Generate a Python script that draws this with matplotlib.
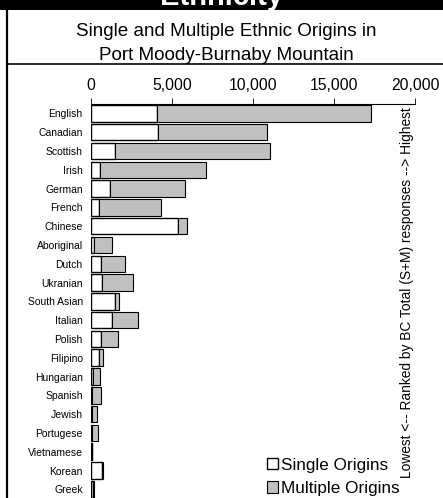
import matplotlib
matplotlib.use("Agg")
import matplotlib.pyplot as plt
from matplotlib.patches import Rectangle
from matplotlib.lines import Line2D

plt.rcParams["font.family"] = ["Liberation Sans", "DejaVu Sans"]

ORIGINS = [
    "English", "Canadian", "Scottish", "Irish", "German", "French", "Chinese",
    "Aboriginal", "Dutch", "Ukranian", "South Asian", "Italian", "Polish",
    "Filipino", "Hungarian", "Spanish", "Jewish", "Portugese", "Vietnamese",
    "Korean", "Greek",
]
SINGLE = [4100, 4140, 1460, 580, 1170, 510, 5390, 210, 600, 660, 1480, 1300,
          600, 510, 140, 70, 80, 70, 60, 700, 140]
TOTAL = [17270, 10850, 11070, 7080, 5820, 4340, 5930, 1320, 2100, 2610, 1750,
         2920, 1670, 760, 580, 640, 370, 450, 80, 720, 210]
MULTIPLE = [t - s for t, s in zip(TOTAL, SINGLE)]
TICKS = [0, 5000, 10000, 15000, 20000]

W, H = 443, 498
fig = plt.figure(figsize=(W / 100, H / 100), dpi=100)
fig.patch.set_facecolor("white")

# black title band and frame lines
fig.add_artist(Rectangle((0, 1 - 10 / H), 1, 10 / H, transform=fig.transFigure,
                         facecolor="black", edgecolor="none"))
fig.add_artist(Line2D([7 / W, 7 / W], [0, 1 - 9 / H], transform=fig.transFigure,
                      color="black", lw=1.6))
fig.add_artist(Line2D([7 / W, 1], [1 - 64 / H, 1 - 64 / H], transform=fig.transFigure,
                      color="black", lw=1.2))
fig.text(0.5, 1 - 5 / H, "Ethnicity", color="white", weight="bold", fontsize=21,
         ha="center", va="baseline")
fig.text(226 / W, 1 - 31 / H, "Single and Multiple Ethnic Origins in", fontsize=13.6,
         ha="center", va="center")
fig.text(226 / W, 1 - 56 / H, "Port Moody-Burnaby Mountain", fontsize=13.6,
         ha="center", va="center")

ax = fig.add_axes([91 / W, 0, (415 - 91) / W, 1 - 104 / H])
y = list(range(len(ORIGINS)))
ax.barh(y, SINGLE, height=0.88, color="white", edgecolor="black", lw=1.0,
        label="Single Origins")
ax.barh(y, MULTIPLE, left=SINGLE, height=0.88, color="#c0c0c0", edgecolor="black",
        lw=0.8, label="Multiple Origins")

ax.set_xlim(0, 20000)
ax.set_ylim(20.46, -0.5)
ax.xaxis.tick_top()
ax.set_xticks(TICKS)
ax.set_xticklabels([f"{t:,}" for t in TICKS], fontsize=11.3)
ax.tick_params(axis="x", direction="out", length=4, width=0.6, pad=4)
ax.set_yticks(y)
ax.set_yticklabels(ORIGINS, fontsize=7.5)
ax.tick_params(axis="y", length=0, pad=6)
for side in ["left", "right", "bottom"]:
    ax.spines[side].set_visible(False)
ax.spines["top"].set_linewidth(0.8)

fig.text(407 / W, 1 - 293 / H,
         "Lowest <-- Ranked by BC Total (S+M) responses --> Highest",
         rotation=90, fontsize=9.9, ha="center", va="center")

ax.legend(loc="lower right", bbox_to_anchor=(412 / W, -10 / H), bbox_transform=fig.transFigure,
          frameon=False, fontsize=12.3, handlelength=0.65, handleheight=0.65,
          handletextpad=0.2, labelspacing=0.5, borderpad=0.2)

fig.savefig("out.png", dpi=100)
